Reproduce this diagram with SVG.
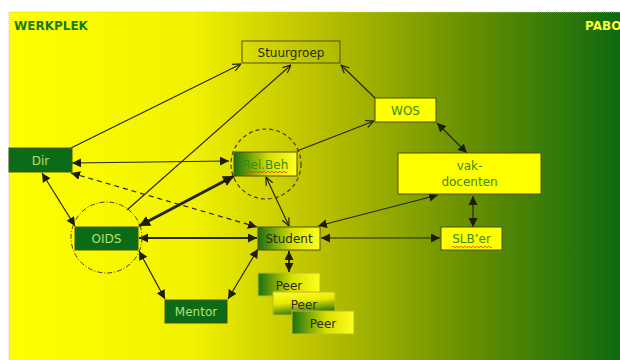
<svg xmlns="http://www.w3.org/2000/svg" width="620" height="360" viewBox="0 0 620 360">
  <defs>
    <linearGradient id="bg" x1="9" y1="0" x2="620" y2="0" gradientUnits="userSpaceOnUse">
      <stop offset="0" stop-color="#ffff00"/>
      <stop offset="0.3" stop-color="#f2f200"/>
      <stop offset="0.5" stop-color="#bcc200"/>
      <stop offset="0.75" stop-color="#689000"/>
      <stop offset="1" stop-color="#0e6a10"/>
    </linearGradient>
    <linearGradient id="gy" x1="0" y1="0" x2="1" y2="0">
      <stop offset="0" stop-color="#1a6e10"/>
      <stop offset="0.55" stop-color="#d8e000"/>
      <stop offset="1" stop-color="#ffff20"/>
    </linearGradient>
    <linearGradient id="yg" x1="0" y1="0" x2="0.3" y2="1">
      <stop offset="0" stop-color="#ffff30"/>
      <stop offset="0.5" stop-color="#e8ea00"/>
      <stop offset="1" stop-color="#2a7410"/>
    </linearGradient>
    <marker id="fa" viewBox="0 0 10 10" refX="10" refY="5" markerWidth="9" markerHeight="9" markerUnits="userSpaceOnUse" orient="auto-start-reverse">
      <path d="M0,0 L10,5 L0,10 z" fill="#1e1e08"/>
    </marker>
    <marker id="fb" viewBox="0 0 10 10" refX="10" refY="5" markerWidth="11" markerHeight="11" markerUnits="userSpaceOnUse" orient="auto-start-reverse">
      <path d="M0,0 L10,5 L0,10 z" fill="#1e1e08"/>
    </marker>
    <marker id="oa" viewBox="0 0 10 10" refX="10" refY="5" markerWidth="9" markerHeight="9" markerUnits="userSpaceOnUse" orient="auto-start-reverse">
      <path d="M1,1 L10,5 L1,9" fill="none" stroke="#1e1e08" stroke-width="1.3"/>
    </marker>
  </defs>
  <style>
    text { font-family: "DejaVu Sans", Verdana, sans-serif; font-size: 12px; text-anchor: middle; }
    .hd { font-weight: bold; text-anchor: start; font-size: 12px; }
    .box { stroke: #4e5010; stroke-width: 1; }
    .peer { stroke: #b8c020; stroke-width: 1; }
    .yel { fill: #ffff00; }
    .dg { fill: #0b6b16; }
    .tg { fill: #3a8a18; }
    .tl { fill: #b8e070; }
    .td { fill: #2a2a10; }
    .ln { stroke: #26260c; stroke-width: 1.2; fill: none; }
    .thick { stroke-width: 3; }
    .mid { stroke-width: 1.8; }
    .dash { stroke-dasharray: 5,4; }
    .sq { stroke: #e03a10; stroke-width: 0.8; fill: none; }
  </style>

  <rect x="9" y="12" width="611" height="348" fill="url(#bg)"/>
  <path d="M9,360 V12 H620" fill="none" stroke="#c8c8a0" stroke-width="1" stroke-dasharray="1,1"/>
  <text class="hd" x="14" y="30" fill="#1a7a1a">WERKPLEK</text>
  <text class="hd" x="585" y="30" fill="#ffff30">PABO</text>

  <g id="connectors">
    <line class="ln" x1="71" y1="148" x2="241" y2="64" marker-end="url(#oa)"/>
    <line class="ln" x1="127" y1="210" x2="291" y2="65" marker-end="url(#oa)"/>
    <line class="ln" x1="297" y1="151" x2="374" y2="121" marker-end="url(#oa)"/>
    <line class="ln" x1="375" y1="98" x2="341" y2="65" marker-end="url(#oa)"/>
    <line class="ln" x1="437" y1="123" x2="467" y2="153" marker-start="url(#fa)" marker-end="url(#fa)"/>
    <line class="ln" x1="473" y1="196" x2="473" y2="227" marker-start="url(#fa)" marker-end="url(#fa)"/>
    <line class="ln" x1="318" y1="226" x2="438" y2="195" marker-start="url(#fa)" marker-end="url(#fa)"/>
    <line class="ln" x1="321" y1="238" x2="440" y2="238" marker-start="url(#fa)" marker-end="url(#fa)"/>
    <line class="ln" x1="72" y1="163" x2="229" y2="161" marker-start="url(#fa)" marker-end="url(#fa)"/>
    <line class="ln" x1="42" y1="173" x2="75" y2="226" marker-start="url(#fa)" marker-end="url(#fa)"/>
    <line class="ln dash" x1="71" y1="173" x2="257" y2="227" marker-start="url(#fa)" marker-end="url(#fa)"/>
    <line class="ln thick" x1="139" y1="226" x2="234" y2="176" marker-start="url(#fb)" marker-end="url(#fb)"/>
    <line class="ln" x1="266" y1="177" x2="289" y2="226" marker-start="url(#oa)" marker-end="url(#oa)"/>
    <line class="ln mid" x1="139" y1="238" x2="257" y2="238" marker-start="url(#fa)" marker-end="url(#fa)"/>
    <line class="ln" x1="139" y1="251" x2="165" y2="299" marker-start="url(#fa)" marker-end="url(#fa)"/>
    <line class="ln" x1="228" y1="299" x2="258" y2="249" marker-start="url(#fa)" marker-end="url(#fa)"/>
    <line class="ln mid" x1="289" y1="251" x2="289" y2="272" marker-start="url(#fa)" marker-end="url(#fa)"/>
  </g>

  <g id="stuurgroep">
    <rect class="box" x="242" y="41" width="98" height="22" fill="none"/>
    <text class="td" x="291" y="57">Stuurgroep</text>
  </g>
  <g id="wos">
    <rect class="box yel" x="375" y="98" width="61" height="24"/>
    <text class="tg" x="405.5" y="115">WOS</text>
  </g>
  <g id="vakdocenten">
    <rect class="box yel" x="398" y="153" width="143" height="41"/>
    <text class="tg" x="469.5" y="170">vak-</text>
    <text class="tg" x="469.5" y="186">docenten</text>
  </g>
  <g id="slber">
    <rect class="box yel" x="441" y="227" width="61" height="23"/>
    <text class="tg" x="471.5" y="243">SLB’er</text>
    <path class="sq" d="M452,247 q1,-1.5 2,0 t2,0 t2,0 t2,0 t2,0 t2,0 t2,0 t2,0 t2,0 t2,0 t2,0 t2,0 t2,0 t2,0 t2,0 t2,0 t2,0 t2,0 t2,0 t2,0"/>
  </g>
  <g id="dir">
    <rect class="box dg" x="9" y="148" width="63" height="24"/>
    <text class="tl" x="40.5" y="165">Dir</text>
  </g>
  <g id="relbeh">
    <circle cx="266" cy="164" r="35" fill="none" stroke="#3e3e10" stroke-width="1.2" stroke-dasharray="4,3"/>
    <rect class="box" x="234" y="152" width="63" height="24" fill="url(#gy)"/>
    <text class="tg" x="265.5" y="169">Rel.Beh</text>
    <path class="sq" d="M243,172 q1,-1.5 2,0 t2,0 t2,0 t2,0 t2,0 t2,0 t2,0 t2,0 t2,0 t2,0 t2,0 t2,0 t2,0 t2,0 t2,0 t2,0 t2,0 t2,0 t2,0 t2,0 t2,0 t2,0"/>
  </g>
  <g id="oids">
    <circle cx="106.5" cy="237.5" r="35.5" fill="none" stroke="#3e3e10" stroke-width="1" stroke-dasharray="5,2,1,2"/>
    <rect class="box dg" x="75" y="227" width="63" height="23"/>
    <text class="tl" x="106.5" y="243">OIDS</text>
  </g>
  <g id="student">
    <rect class="box" x="258" y="227" width="62" height="23" fill="url(#gy)"/>
    <text class="td" x="289" y="243">Student</text>
  </g>
  <g id="mentor">
    <rect class="box dg" x="165" y="300" width="62" height="23"/>
    <text class="tl" x="196" y="316">Mentor</text>
  </g>
  <g id="peer1">
    <rect class="peer" x="258" y="273" width="62" height="23" fill="url(#gy)"/>
    <text class="td" x="289" y="290">Peer</text>
  </g>
  <g id="peer2">
    <rect class="peer" x="273" y="292" width="62" height="23" fill="url(#yg)"/>
    <text class="td" x="304" y="309">Peer</text>
  </g>
  <g id="peer3">
    <rect class="peer" x="292" y="311" width="62" height="23" fill="url(#gy)"/>
    <text class="td" x="323" y="328">Peer</text>
  </g>
</svg>
